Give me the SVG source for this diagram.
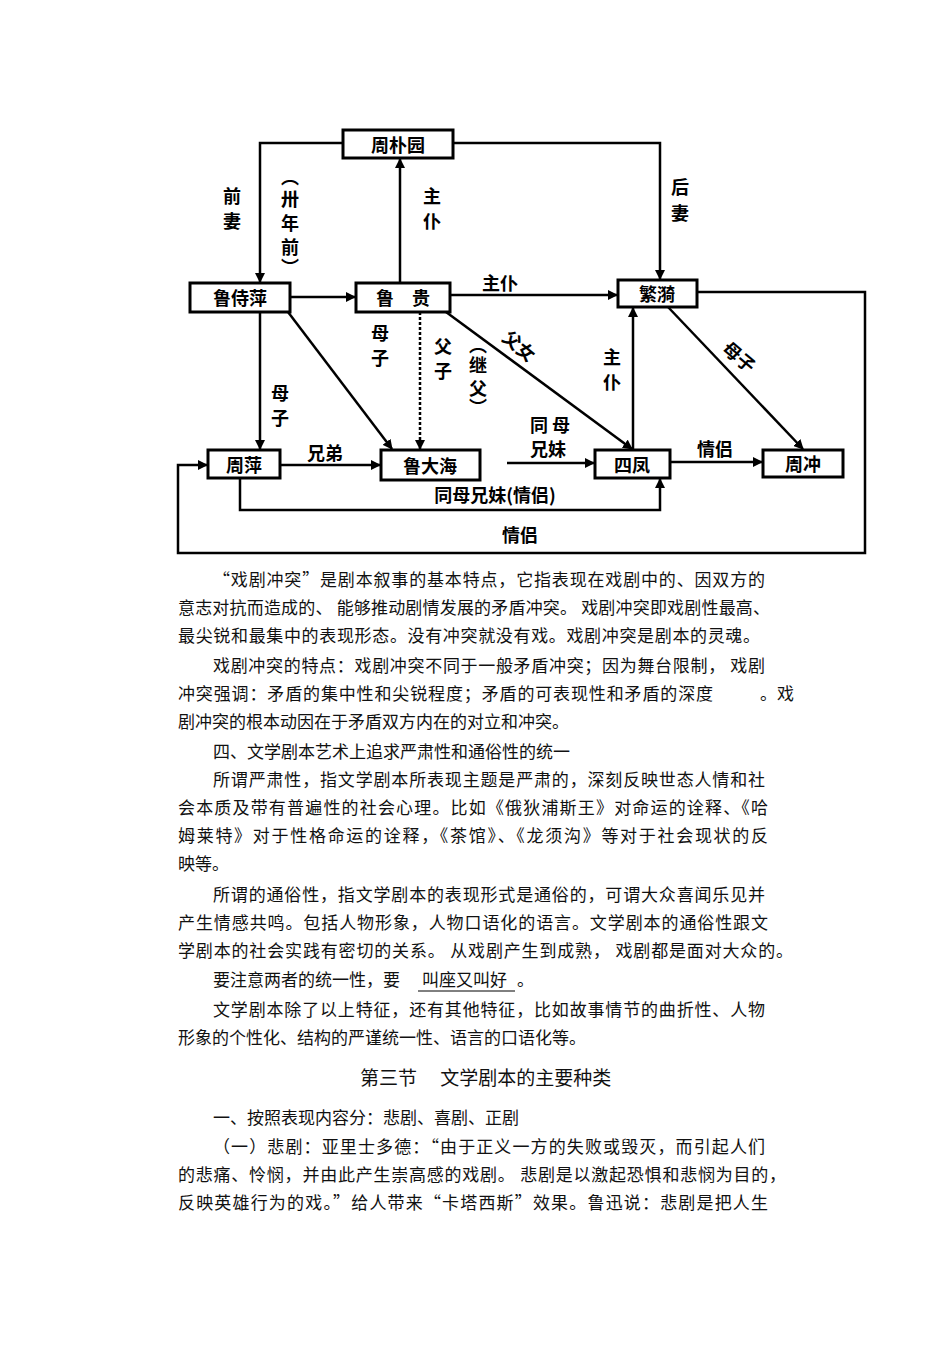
<svg xmlns="http://www.w3.org/2000/svg" width="950" height="1345" viewBox="0 0 950 1345">
<style>
.box{fill:#fff;stroke:#000;stroke-width:3}
.n{font-family:"Noto Sans CJK SC",sans-serif;font-size:18px;font-weight:bold;text-anchor:middle;dominant-baseline:central}
.l{font-family:"Noto Sans CJK SC",sans-serif;font-size:18px;font-weight:bold;text-anchor:middle;dominant-baseline:central}
.c{fill:none;stroke:#000;stroke-width:2.5;marker-end:url(#a)}
.t{font-family:"Noto Sans CJK SC",sans-serif;font-size:17px;fill:#111}
</style>
<defs><marker id="a" viewBox="0 0 10 10" refX="9" refY="5" markerWidth="4" markerHeight="4" orient="auto"><path d="M0,0L10,5L0,10z" fill="#000"/></marker></defs>
<rect width="950" height="1345" fill="#fff"/>
<g id="connectors">
<path class="c" d="M343,143H260V282"/>
<path class="c" d="M453,143H660V279"/>
<path class="c" d="M400,283V159"/>
<path class="c" d="M290,297H355"/>
<path class="c" d="M450,295H617"/>
<path class="c" d="M697,292H865V553H178V465H207"/>
<path class="c" d="M260,312V449"/>
<path class="c" d="M288,312L392,449"/>
<path class="c" d="M420,312V449" stroke-dasharray="3,2"/>
<path class="c" d="M446,312L632,449"/>
<path class="c" d="M633,450V308"/>
<path class="c" d="M668,307L803,449"/>
<path class="c" d="M280,465H380"/>
<path class="c" d="M507,463H594"/>
<path class="c" d="M670,462H762"/>
<path class="c" d="M240,478V510H660V479"/>
<text class="l" x="232" y="195">前</text><text class="l" x="232" y="220">妻</text>
<text class="l" x="290" y="176">︵</text><text class="l" x="290" y="198">卅</text><text class="l" x="290" y="222">年</text><text class="l" x="290" y="246">前</text><text class="l" x="290" y="266">︶</text>
<text class="l" x="432" y="195">主</text><text class="l" x="432" y="220">仆</text>
<text class="l" x="680" y="186">后</text><text class="l" x="680" y="212">妻</text>
<text class="l" x="500" y="282">主仆</text>
<text class="l" x="380" y="332">母</text><text class="l" x="380" y="357">子</text>
<text class="l" x="443" y="345">父</text><text class="l" x="443" y="370">子</text>
<text class="l" x="478" y="344">︵</text><text class="l" x="478" y="364">继</text><text class="l" x="478" y="387">父</text><text class="l" x="478" y="406">︶</text>
<text class="l" x="520" y="345" transform="rotate(40 520 345)">父女</text>
<text class="l" x="280" y="392">母</text><text class="l" x="280" y="417">子</text>
<text class="l" x="612" y="356">主</text><text class="l" x="612" y="381">仆</text>
<text class="l" x="740" y="356" transform="rotate(40 740 356)">母子</text>
<text class="l" x="325" y="452">兄弟</text>
<text class="l" x="550" y="424">同 母</text><text class="l" x="548" y="448">兄妹</text>
<text class="l" x="715" y="448">情侣</text>
<text class="l" x="495" y="494">同母兄妹(情侣)</text>
<text class="l" x="520" y="534">情侣</text>
</g>
<g id="n1"><rect class="box" x="343" y="130" width="110" height="28"/><text class="n" x="398" y="144">周朴园</text></g>
<g id="n2"><rect class="box" x="190" y="283" width="100" height="29"/><text class="n" x="240" y="297">鲁侍萍</text></g>
<g id="n3"><rect class="box" x="356" y="283" width="94" height="29"/><text class="n" x="403" y="297">鲁　贵</text></g>
<g id="n4"><rect class="box" x="618" y="280" width="79" height="27"/><text class="n" x="657" y="293">繁漪</text></g>
<g id="n5"><rect class="box" x="208" y="450" width="72" height="28"/><text class="n" x="244" y="464">周萍</text></g>
<g id="n6"><rect class="box" x="381" y="450" width="99" height="30"/><text class="n" x="430" y="465">鲁大海</text></g>
<g id="n7"><rect class="box" x="595" y="450" width="75" height="28"/><text class="n" x="632" y="464">四凤</text></g>
<g id="n8"><rect class="box" x="763" y="450" width="80" height="27"/><text class="n" x="803" y="463">周冲</text></g>
<g id="body">
<text class="t" x="213" y="586" textLength="552" lengthAdjust="spacing">“戏剧冲突”是剧本叙事的基本特点，它指表现在戏剧中的、因双方的</text>
<text class="t" x="178" y="614" textLength="592" lengthAdjust="spacing">意志对抗而造成的、 能够推动剧情发展的矛盾冲突。  戏剧冲突即戏剧性最高、</text>
<text class="t" x="178" y="642" textLength="582" lengthAdjust="spacing">最尖锐和最集中的表现形态。没有冲突就没有戏。戏剧冲突是剧本的灵魂。</text>
<text class="t" x="213" y="672" textLength="552" lengthAdjust="spacing">戏剧冲突的特点：戏剧冲突不同于一般矛盾冲突；因为舞台限制， 戏剧</text>
<text class="t" x="178" y="700" textLength="535" lengthAdjust="spacing">冲突强调：矛盾的集中性和尖锐程度；矛盾的可表现性和矛盾的深度</text>
<text class="t" x="760" y="700">。戏</text>
<text class="t" x="178" y="728">剧冲突的根本动因在于矛盾双方内在的对立和冲突。</text>
<text class="t" x="213" y="758">四、文学剧本艺术上追求严肃性和通俗性的统一</text>
<text class="t" x="213" y="786" textLength="552" lengthAdjust="spacing">所谓严肃性，指文学剧本所表现主题是严肃的，深刻反映世态人情和社</text>
<text class="t" x="178" y="814" textLength="590" lengthAdjust="spacing">会本质及带有普遍性的社会心理。比如《俄狄浦斯王》对命运的诠释、《哈</text>
<text class="t" x="178" y="842" textLength="590" lengthAdjust="spacing">姆莱特》对于性格命运的诠释，《茶馆》、《龙须沟》等对于社会现状的反</text>
<text class="t" x="178" y="870">映等。</text>
<text class="t" x="213" y="901" textLength="552" lengthAdjust="spacing">所谓的通俗性，指文学剧本的表现形式是通俗的，可谓大众喜闻乐见并</text>
<text class="t" x="178" y="929" textLength="590" lengthAdjust="spacing">产生情感共鸣。包括人物形象，人物口语化的语言。文学剧本的通俗性跟文</text>
<text class="t" x="178" y="957" textLength="615" lengthAdjust="spacing">学剧本的社会实践有密切的关系。 从戏剧产生到成熟， 戏剧都是面对大众的。</text>
<text class="t" x="213" y="986">要注意两者的统一性，要</text>
<text class="t" x="422" y="986">叫座又叫好</text>
<text class="t" x="517" y="986">。</text>
<path d="M418,991H515" stroke="#000" stroke-width="1"/>
<text class="t" x="213" y="1016" textLength="552" lengthAdjust="spacing">文学剧本除了以上特征，还有其他特征，比如故事情节的曲折性、人物</text>
<text class="t" x="178" y="1044">形象的个性化、结构的严谨统一性、语言的口语化等。</text>
<text class="t" x="360" y="1085" style="font-size:19px">第三节　 文学剧本的主要种类</text>
<text class="t" x="213" y="1124">一、按照表现内容分：悲剧、喜剧、正剧</text>
<text class="t" x="213" y="1153" textLength="552" lengthAdjust="spacing">（一）悲剧：亚里士多德：“由于正义一方的失败或毁灭，而引起人们</text>
<text class="t" x="178" y="1181" textLength="608" lengthAdjust="spacing">的悲痛、怜悯，并由此产生崇高感的戏剧。  悲剧是以激起恐惧和悲悯为目的，</text>
<text class="t" x="178" y="1209" textLength="590" lengthAdjust="spacing">反映英雄行为的戏。”给人带来“卡塔西斯”效果。鲁迅说：悲剧是把人生</text>
</g>
</svg>
